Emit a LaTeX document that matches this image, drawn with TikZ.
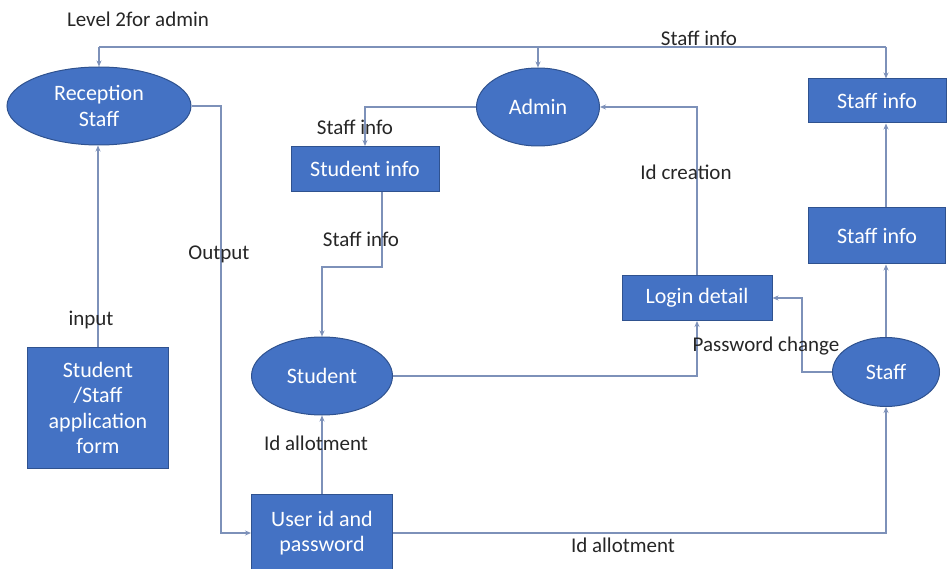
\documentclass[tikz,border=0pt]{standalone}
\usepackage{fontspec}
\setmainfont{Carlito}
\usetikzlibrary{shapes.geometric,arrows.meta}
\definecolor{boxblue}{RGB}{68,114,196}
\definecolor{rimblue}{RGB}{47,82,143}
\definecolor{linkgray}{RGB}{125,145,185}
\begin{document}
\begin{tikzpicture}
[x=1pt,y=-1pt,
font=\fontsize{21}{25}\selectfont,
proc/.style={ellipse,fill=boxblue,draw=rimblue,line width=1pt,text=white,inner sep=0pt,align=center,font=\fontsize{22}{25.5}\selectfont},
store/.style={rectangle,fill=boxblue,draw=rimblue,line width=1pt,text=white,inner sep=0pt,align=center,font=\fontsize{22}{25.5}\selectfont},
link/.style={draw=linkgray,line width=1.2pt},
flow/.style={link,-{Stealth[length=6pt,width=5pt]}},
tag/.style={text=black!85}]
\useasboundingbox (0,0) rectangle (948,569);
% processes and stores
\node[proc,minimum width=184pt,minimum height=78pt] (rec) at (99,106) {Reception\\Staff};
\node[proc,minimum width=123pt,minimum height=78pt] (admin) at (538,107) {Admin};
\node[store,minimum width=138pt,minimum height=44pt] (sinfo1) at (877,101) {Staff info};
\node[store,minimum width=148pt,minimum height=45pt] (stuinfo) at (365,169) {Student info};
\node[store,minimum width=137pt,minimum height=56pt] (sinfo2) at (877,236) {Staff info};
\node[store,minimum width=150pt,minimum height=45pt] (login) at (697,298) {Login detail};
\node[store,minimum width=141pt,minimum height=120pt] (form) at (98,408) {Student\\/Staff\\application\\form};
\node[proc,minimum width=141pt,minimum height=78pt] (student) at (322,376) {Student};
\node[proc,minimum width=107pt,minimum height=69pt] (staff) at (886,372) {Staff};
\node[store,minimum width=141pt,minimum height=77pt] (userid) at (322,533) {User id and\\password};
% top line
\coordinate (top) at (0,47);
\draw[link] (rec.north|-top) -- (staff.north|-top);
\draw[flow] (rec.north|-top) -- (rec.north);
\draw[flow] (admin.north|-top) -- (admin.north);
\draw[flow] (staff.north|-top) -- (staff.north|-sinfo1.north);
% flows
\draw[flow] (admin.west) -| (stuinfo.north);
\draw[flow] (login.north) |- (admin.east);
\draw[flow] (stuinfo.south -| 382,0) -- (382,267) -| (student.north);
\draw[flow] (rec.east) -| (221,533) -- (userid.west);
\draw[flow] (form.north) -- (form.north|-rec.south);
\draw[flow] (userid.north) -- (student.south);
\draw[flow] (student.east) -| (login.south);
\draw[flow] (staff.west) -| (802,298) -- (login.east);
\draw[flow] (staff.north) -- (staff.north|-sinfo2.south);
\draw[flow] (staff.north|-sinfo2.north) -- (staff.north|-sinfo1.south);
\draw[flow] (userid.east) -| (staff.south);
% labels
\node[tag] (lvl) at (138,19) {Level 2for admin};
\node[tag] (t1) at (699,38) {Staff info};
\node[tag] (t2) at (355,127) {Staff info};
\node[tag] (t3) at (686,172) {Id creation};
\node[tag] (t4) at (361,239) {Staff info};
\node[tag] (t5) at (219,254) {Output};
\node[tag] (t6) at (91,320) {input};
\node[tag] (t7) at (316,443) {Id allotment};
\node[tag] (t8) at (766,346) {Password change};
\node[tag] (t9) at (623,545) {Id allotment};
\end{tikzpicture}
\end{document}
